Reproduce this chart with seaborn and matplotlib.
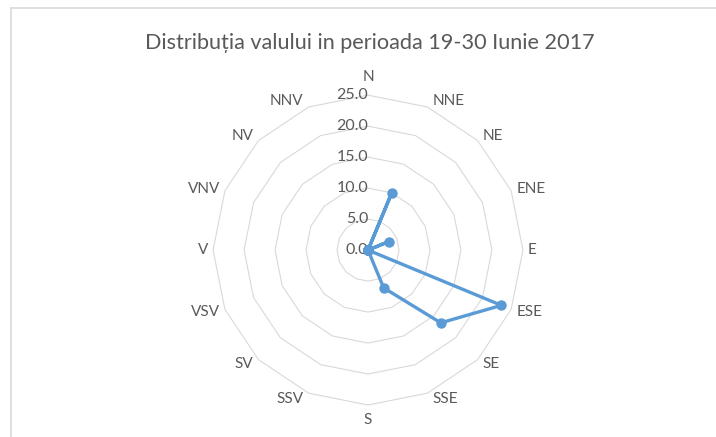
import numpy as np
import pandas as pd
import matplotlib.pyplot as plt
from matplotlib.lines import Line2D
import seaborn as sns

directions = ["N", "NNE", "NE", "ENE", "E", "ESE", "SE", "SSE",
              "S", "SSV", "SV", "VSV", "V", "VNV", "NV", "NNV"]
values = [0, 10.0, 0, 3.6, 0, 23.3, 16.6, 6.6,
          0, 0, 0, 0, 0, 0, 0, 0]
rings = [5, 10, 15, 20, 25]
ring_labels = ["0.0", "5.0", "10.0", "15.0", "20.0", "25.0"]
title = "Distribuția valului in perioada 19-30 Iunie 2017"

sns.set_style("white")
plt.rcParams['font.family'] = ['Lato', 'DejaVu Sans']

gray = "#595959"
blue = "#5B9BD5"

fig = plt.figure(figsize=(7.16, 4.37), dpi=100)
ax = fig.add_axes([0.2975, 0.0732, 0.433, 0.709], projection="polar")
ax.set_theta_zero_location("N")
ax.set_theta_direction(-1)

angles = np.linspace(0, 2 * np.pi, len(directions), endpoint=False)
closed = np.append(angles, angles[0])

# polygon grid like excel radar
for r in rings:
    ax.plot(closed, [r] * len(closed), color="#d9d9d9", lw=0.8, clip_on=False, zorder=1)

df = pd.DataFrame({"theta": closed, "r": values + [values[0]]})
sns.lineplot(data=df, x="theta", y="r", sort=False, ax=ax, color=blue,
             lw=2.4, marker="o", markersize=7.5, markeredgewidth=0, zorder=3)

ax.set_ylim(0, 25)
ax.grid(False)
ax.set_xticks([])
ax.set_yticks([])
ax.set_xlabel("")
ax.set_ylabel("")
ax.spines["polar"].set_visible(False)

# category labels placed next to the outer ring, excel style
px = 0.72
for a, d in zip(angles, directions):
    s, c = np.sin(a), np.cos(a)
    if abs(s) < 0.1:
        ha = "center"
        dx = 0
        dy = 18 if c > 0 else -15
    else:
        ha = "left" if s > 0 else "right"
        dx = 5 if s > 0 else -5
        dy = 6 * c
    ax.annotate(d, xy=(a, 25), xytext=(dx * px, dy * px), textcoords="offset points",
                ha=ha, va="center", fontsize=11, color=gray, annotation_clip=False)

for i, lab in enumerate(ring_labels):
    ax.text(0, i * 5, lab, ha="right", va="center", fontsize=11.5, color=gray, clip_on=False, zorder=2)

fig.text(370 / 716, 1 - 43 / 437, title, ha="center", va="center", fontsize=15.6, color=gray)

fig.add_artist(Line2D([11 / 716, 1], [1 - 8 / 437] * 2, color="#d9d9d9", lw=1.2))
fig.add_artist(Line2D([11 / 716] * 2, [0, 1 - 8 / 437], color="#d9d9d9", lw=1.2))

fig.savefig("out.png", dpi=100)
